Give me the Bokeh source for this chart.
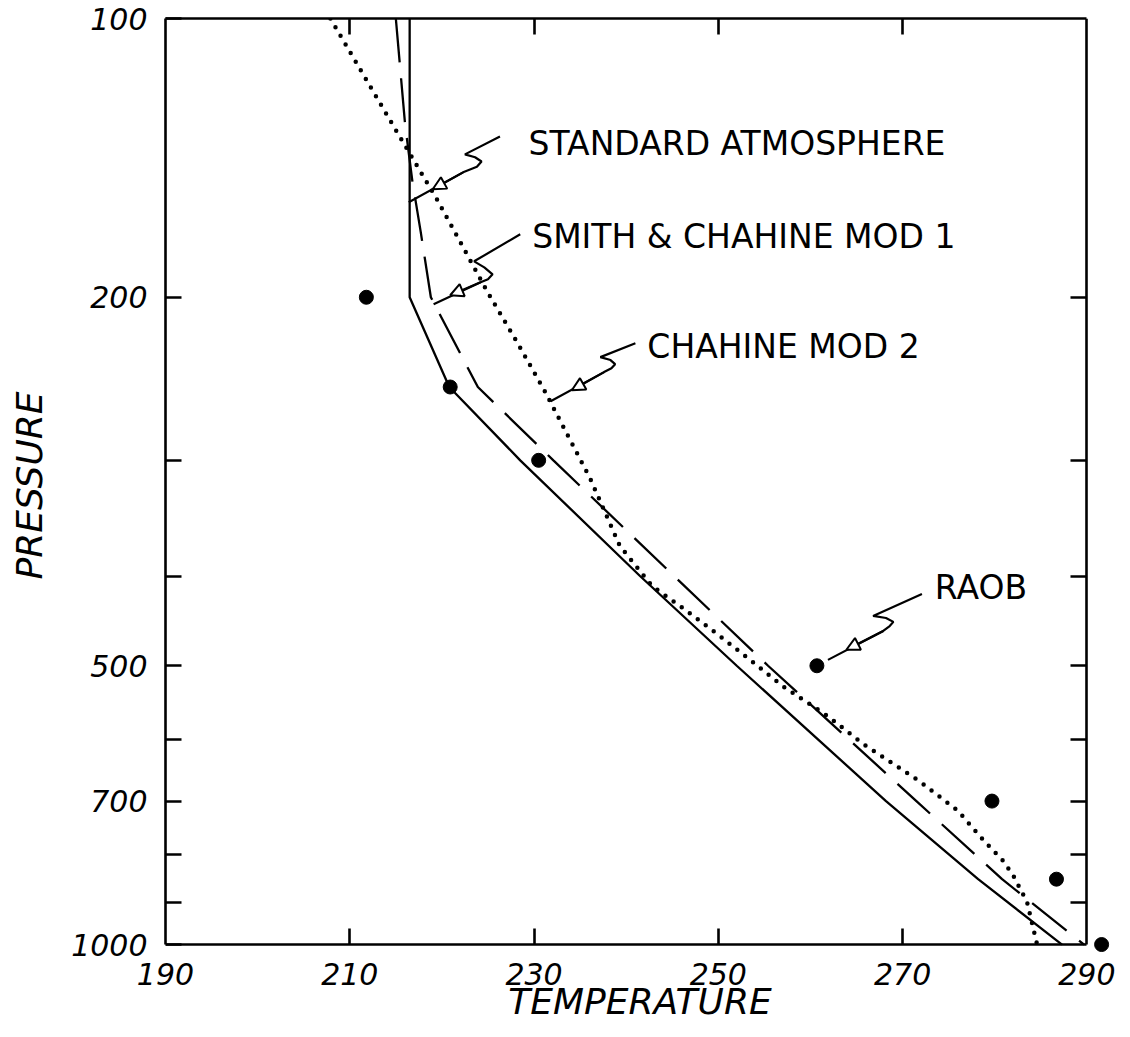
from bokeh.plotting import figure
from bokeh.models import (Range1d, FixedTicker, LinearAxis, LogAxis, Arrow,
                          NormalHead, ColumnDataSource, PrintfTickFormatter)
from bokeh.core.properties import value
from bokeh.embed import file_html
from bokeh.resources import INLINE

# ---------------- data ----------------
x_ticks = [190, 210, 230, 250, 270, 290]
y_labeled = [100, 200, 500, 700, 1000]
y_unlabeled = [300, 400, 600, 800, 900]
y_all_inner = [200, 300, 400, 500, 600, 700, 800, 900]
x_inner = [210, 230, 250, 270]
T_min, T_max = 190, 290
p_top, p_bottom = 100, 1000

# Standard atmosphere (solid)
std_p = [100, 200, 250, 300, 400, 500, 700, 850, 1000]
std_T = [216.5, 216.5, 220.8, 228.5, 241.5, 252.0, 268.2, 278.2, 287.3]

# Smith & Chahine Mod 1 (dashed)
mod1_p = [100, 130, 150, 170, 200, 250, 300, 400, 500, 700, 850, 1000]
mod1_T = [215.0, 216.0, 216.8, 217.7, 218.8, 223.9, 232.1, 245.2, 255.4, 271.5, 280.8, 289.7]

# Chahine Mod 2 (dotted)
mod2_p = [100, 133, 157, 197, 224, 253, 290, 314, 371, 410, 435, 463, 495,
          526, 566, 607, 667, 717, 774, 812, 842, 899, 1000]
mod2_T = [207.9, 215.2, 219.5, 224.9, 228.2, 231.2, 234.3, 236.1, 239.3, 242.8,
          246.4, 250.0, 253.7, 257.0, 261.8, 265.7, 271.9, 276.0, 278.9, 280.9,
          282.0, 283.5, 284.6]

# RAOB points
raob_p = [200, 250, 300, 500, 700, 850, 1000]
raob_T = [211.8, 220.9, 230.5, 260.7, 279.7, 286.7, 291.6]

# Callout labels (position in T, p)
label_text = ["STANDARD ATMOSPHERE", "SMITH & CHAHINE MOD 1", "CHAHINE MOD 2", "RAOB"]
label_T = [229.4, 229.8, 242.3, 273.5]
label_p = [136.4, 171.8, 225.9, 412.0]

# Callout leader paths (T, p) and arrowhead positions
call_T = [
    [226.3, 222.5, 223.6, 224.3, 223.8, 222.3, 216.4],
    [228.5, 223.5, 224.6, 225.5, 225.0, 224.2, 219.1],
    [241.0, 237.2, 238.3, 238.8, 238.4, 237.6, 231.8],
    [272.1, 266.8, 268.2, 269.0, 268.6, 267.9, 261.9],
]
call_p = [
    [134.1, 140.2, 141.2, 142.7, 144.6, 146.6, 157.9],
    [171.0, 182.9, 185.7, 188.9, 191.2, 192.7, 203.5],
    [224.2, 232.1, 233.8, 236.2, 238.6, 240.9, 259.0],
    [418.2, 441.7, 444.0, 448.3, 453.0, 458.5, 492.7],
]
head_T = [219.0, 220.9, 234.1, 263.9]
head_p = [152.9, 199.0, 252.0, 480.5]

# ---------------- figure ----------------
# the frame is a little larger than the drawn box so that the last RAOB
# point (beyond 290 K at 1000 mb) is not clipped; the box is drawn by axes
p = figure(width=1130, height=1037,
           x_range=Range1d(T_min, 293.0), y_range=Range1d(1020, p_top),
           y_axis_type="log", output_backend="svg", toolbar_location=None,
           min_border_left=165, min_border_right=16, min_border_top=18,
           min_border_bottom=85)
p.grid.visible = False
p.outline_line_color = None
p.background_fill_color = "white"
p.border_fill_color = "white"

LW = 2.6
TICK = 16
FONT = "DejaVu Sans"


def style_axis(ax):
    ax.axis_line_color = "black"
    ax.axis_line_width = LW
    ax.major_tick_line_color = "black"
    ax.major_tick_line_width = LW
    ax.minor_tick_line_color = "black"
    ax.minor_tick_line_width = LW
    ax.major_tick_in = TICK
    ax.major_tick_out = 0
    ax.minor_tick_in = TICK
    ax.minor_tick_out = 0
    ax.major_label_text_font = FONT
    ax.major_label_text_font_style = "italic"
    ax.major_label_text_font_size = "30px"
    ax.major_label_text_color = "black"
    ax.axis_label_text_font = FONT
    ax.axis_label_text_font_style = "italic"
    ax.axis_label_text_font_size = "36px"
    ax.axis_label_text_color = "black"


# bottom axis: carries the tick labels and the title
xa = p.xaxis[0]
style_axis(xa)
xa.ticker = FixedTicker(ticks=x_ticks, minor_ticks=[])
xa.formatter = PrintfTickFormatter(format="%d")
xa.axis_line_color = None
xa.major_tick_line_color = None
xa.minor_tick_line_color = None
xa.major_label_standoff = 10
xa.axis_label = "TEMPERATURE"
xa.axis_label_standoff = -7
xa.bounds = (T_min, T_max)

# bottom box edge with inner ticks, drawn at 1000 mb
xb = LinearAxis(ticker=FixedTicker(ticks=[], minor_ticks=x_inner))
style_axis(xb)
xb.bounds = (T_min, T_max)
xb.fixed_location = p_bottom
p.add_layout(xb, "below")

ya = p.yaxis[0]
style_axis(ya)
ya.ticker = FixedTicker(ticks=y_labeled, minor_ticks=y_unlabeled)
ya.formatter = PrintfTickFormatter(format="%d")
ya.major_label_standoff = 18
ya.axis_label = "PRESSURE"
ya.axis_label_standoff = 18
ya.bounds = (p_top, p_bottom)

ra = LogAxis(ticker=FixedTicker(ticks=[], minor_ticks=y_all_inner))
style_axis(ra)
ra.bounds = (p_top, p_bottom)
ra.fixed_location = T_max
p.add_layout(ra, "right")

ta = LinearAxis(ticker=FixedTicker(ticks=[], minor_ticks=x_inner))
style_axis(ta)
ta.bounds = (T_min, T_max)
p.add_layout(ta, "above")

# ---------------- curves ----------------
p.line(std_T, std_p, line_color="black", line_width=2.3)
p.line(mod1_T, mod1_p, line_color="black", line_width=2.3, line_dash="44 16")
p.line(mod2_T, mod2_p, line_color="black", line_width=4.5, line_dash="0 10",
       line_cap="round")
p.scatter(raob_T, raob_p, size=14, color="black")

# ---------------- callouts ----------------
p.multi_line(call_T, call_p, line_color="black", line_width=2.2)
for i in range(len(head_T)):
    p.add_layout(Arrow(x_start=call_T[i][-2], y_start=call_p[i][-2],
                       x_end=head_T[i], y_end=head_p[i],
                       line_color="black", line_width=2.2,
                       end=NormalHead(size=13, fill_color="white",
                                      line_color="black", line_width=2)))

src = ColumnDataSource(dict(x=label_T, y=label_p, text=label_text))
p.text(x="x", y="y", text="text", source=src, text_font=value(FONT),
       text_font_size="33px", text_baseline="middle", text_align="left",
       text_color="black")

open("out.html", "w").write(file_html(p, INLINE))
